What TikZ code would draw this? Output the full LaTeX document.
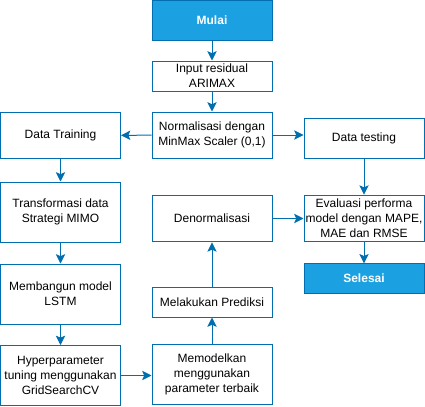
\documentclass[tikz,border=0pt]{standalone}
\usepackage{fontspec}
\setmainfont{Liberation Sans}
\usetikzlibrary{arrows.meta}
\definecolor{boxline}{HTML}{006EAF}
\definecolor{boxfill}{HTML}{1BA1E2}
\begin{document}
\begin{tikzpicture}[x=0.75pt,y=-0.75pt,
    box/.style={draw=boxline,line width=0.75pt,minimum width=90pt,align=center,inner sep=1pt,font=\fontsize{9}{11.25}\selectfont},
    term/.style={box,fill=boxfill,text=white,font=\fontsize{9}{11.25}\selectfont\bfseries},
    arrow/.style={draw=boxline,line width=0.75pt,-{Stealth[length=7pt,width=7pt,inset=1.5pt]}}]

        \useasboundingbox (0, 0) rectangle (425, 407);

        \node[term,minimum height=30pt] (mulai) at (212, 20.5) {Mulai};
        \node[box,minimum height=22.5pt] (input) at (212, 76) {Input residual\\ARIMAX};
        \node[box,minimum height=34.5pt] (norm) at (212, 135) {Normalisasi dengan\\MinMax Scaler (0,1)};
        \node[box,minimum height=35pt] (train) at (60.5, 135.5) {Data Training};
        \node[box,minimum height=30pt] (test) at (364, 138) {Data testing};

        \node[box,minimum height=45pt] (transf) at (60.5, 212) {Transformasi data\\Strategi MIMO};
        \node[box,minimum height=35pt] (denorm) at (212, 218.5) {Denormalisasi};
        \node[box,minimum height=35pt] (eval) at (364, 218.5) {Evaluasi performa\\model dengan MAPE,\\MAE dan RMSE};
        \node[term,minimum height=22pt] (selesai) at (364, 278.5) {Selesai};

        \node[box,minimum height=45pt] (lstm) at (60.5, 294) {Membangun model\\LSTM};
        \node[box,minimum height=22.5pt] (prediksi) at (212, 302) {Melakukan Prediksi};

        \node[box,minimum height=45pt] (tuning) at (60.5, 375.5) {Hyperparameter\\tuning menggunakan\\GridSearchCV};
        \node[box,minimum height=45pt] (modelkan) at (212, 374) {Memodelkan\\menggunakan\\parameter terbaik};

        \draw[arrow] (mulai) -- (input);
        \draw[arrow] (input) -- (norm);
        \draw[arrow] (norm) -- (train);
        \draw[arrow] (norm.east) -- (norm.east -| test.west);
        \draw[arrow] (train) -- (transf);
        \draw[arrow] (transf) -- (lstm);
        \draw[arrow] (lstm) -- (tuning);
        \draw[arrow] (tuning.east) -- (tuning.east -| modelkan.west);
        \draw[arrow] (modelkan) -- (prediksi);
        \draw[arrow] (prediksi) -- (denorm);
        \draw[arrow] (denorm) -- (eval);
        \draw[arrow] (test) -- (eval);
        \draw[arrow] (eval) -- (selesai);
      \end{tikzpicture}
\end{document}
